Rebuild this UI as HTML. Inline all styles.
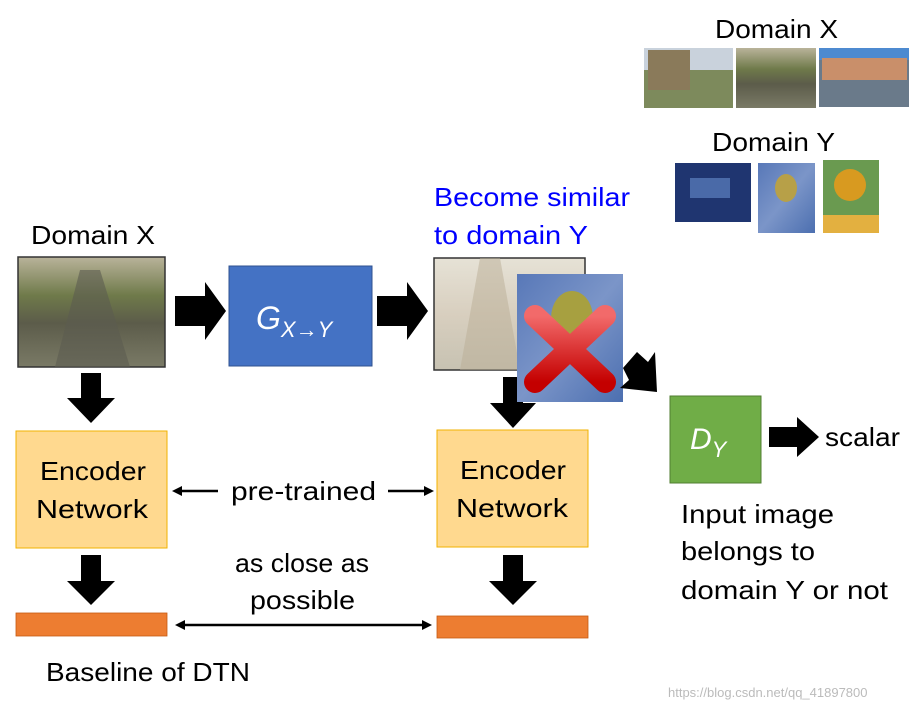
<!DOCTYPE html>
<html><head><meta charset="utf-8"><style>
body{margin:0;background:#fff;width:920px;height:711px;overflow:hidden}
svg text{font-family:"Liberation Sans",sans-serif}
</style></head><body>
<svg width="920" height="711" viewBox="0 0 920 711" xmlns="http://www.w3.org/2000/svg">
<defs>
<linearGradient id="canal" x1="0" y1="0" x2="0" y2="1">
<stop offset="0" stop-color="#b9b39a"/><stop offset="0.35" stop-color="#6f7a4a"/><stop offset="0.6" stop-color="#5c5c4a"/><stop offset="1" stop-color="#7a7a66"/></linearGradient>
<linearGradient id="water" x1="0" y1="0" x2="0" y2="1">
<stop offset="0" stop-color="#e6e2d6"/><stop offset="0.5" stop-color="#d8cfbf"/><stop offset="1" stop-color="#c7c2b2"/></linearGradient>
<linearGradient id="vg" x1="0" y1="0" x2="1" y2="1">
<stop offset="0" stop-color="#5878b8"/><stop offset="0.5" stop-color="#7b95c8"/><stop offset="1" stop-color="#4c6fb0"/></linearGradient>
<linearGradient id="redx" x1="0" y1="0" x2="0" y2="1">
<stop offset="0" stop-color="#f26a6a"/><stop offset="1" stop-color="#c40000"/></linearGradient>
</defs>
<text x="715" y="38" font-size="26" textLength="123" lengthAdjust="spacingAndGlyphs">Domain X</text>
<rect x="644" y="48" width="89" height="60" fill="#7d8a5c"/><rect x="644" y="48" width="89" height="22" fill="#c9d2dc"/><rect x="648" y="50" width="42" height="40" fill="#8a7a5a"/>
<rect x="736" y="48" width="80" height="60" fill="url(#canal)"/>
<rect x="819" y="48" width="90" height="59" fill="#6a7a8a"/><rect x="819" y="48" width="90" height="12" fill="#4d8ad0"/><rect x="822" y="58" width="85" height="22" fill="#c98f6a"/>
<text x="712" y="151" font-size="26" textLength="123" lengthAdjust="spacingAndGlyphs">Domain Y</text>
<rect x="675" y="163" width="76" height="59" fill="#1f3570"/><rect x="690" y="178" width="40" height="20" fill="#4a6aa8"/>
<rect x="758" y="163" width="57" height="70" fill="url(#vg)"/><ellipse cx="786" cy="188" rx="11" ry="14" fill="#b7a048"/>
<rect x="823" y="160" width="56" height="73" fill="#6a9a50"/><circle cx="850" cy="185" r="16" fill="#d89a20"/><rect x="823" y="215" width="56" height="18" fill="#e3b040"/>
<text x="31" y="244" font-size="26" textLength="124" lengthAdjust="spacingAndGlyphs">Domain X</text>
<rect x="18" y="257" width="147" height="110" fill="url(#canal)" stroke="#333" stroke-width="1.5"/>
<polygon points="80,270 100,270 130,367 55,367" fill="#5b5c50" opacity="0.6"/>
<polygon points="175,296 205,296 205,282 226,311 205,340 205,326 175,326" fill="#000"/>
<rect x="229" y="266" width="143" height="100" fill="#4472c4" stroke="#2f528f"/>
<text x="256" y="329" font-size="32" font-style="italic" fill="#fff" font-family="Liberation Serif">G<tspan font-size="22" dy="8">X→Y</tspan></text>
<polygon points="377,296 407,296 407,282 428,311 407,340 407,326 377,326" fill="#000"/>
<text x="434" y="206" font-size="26" fill="#0000ff" textLength="196" lengthAdjust="spacingAndGlyphs">Become similar</text>
<text x="434" y="244" font-size="26" fill="#0000ff" textLength="154" lengthAdjust="spacingAndGlyphs">to domain Y</text>
<rect x="434" y="258" width="151" height="112" fill="url(#water)" stroke="#333" stroke-width="1.5"/>
<polygon points="480,258 500,258 520,370 460,370" fill="#b9ae96" opacity="0.5"/>
<polygon points="503,377 523,377 523,403 536,403 513,428 490,403 503,403" fill="#000"/>
<rect x="517" y="274" width="106" height="128" fill="url(#vg)"/>
<ellipse cx="572" cy="318" rx="21" ry="27" fill="#a7a040"/>
<g stroke="url(#redx)" stroke-width="22" stroke-linecap="round"><line x1="535" y1="316" x2="605" y2="382"/><line x1="605" y1="316" x2="535" y2="382"/></g>
<polygon points="623,368 637,352 648,362 655,352 657,392 620,388 629,380" fill="#000"/>
<rect x="670" y="396" width="91" height="87" fill="#70ad47" stroke="#507e32"/>
<text x="690" y="449" font-size="30" font-style="italic" fill="#fff" font-family="Liberation Serif">D<tspan font-size="22" dy="8">Y</tspan></text>
<polygon points="769,427 797,427 797,417 819,437 797,457 797,447 769,447" fill="#000"/>
<text x="825" y="446" font-size="26" textLength="75" lengthAdjust="spacingAndGlyphs">scalar</text>
<text x="681" y="523" font-size="26" textLength="153" lengthAdjust="spacingAndGlyphs">Input image</text>
<text x="681" y="560" font-size="26" textLength="134" lengthAdjust="spacingAndGlyphs">belongs to</text>
<text x="681" y="599" font-size="26" textLength="207" lengthAdjust="spacingAndGlyphs">domain Y or not</text>
<polygon points="81,373 101,373 101,398 115,398 91,423 67,398 81,398" fill="#000"/>
<rect x="16" y="431" width="151" height="117" fill="#ffd98f" stroke="#f2b200"/>
<text x="40" y="480" font-size="26" textLength="106" lengthAdjust="spacingAndGlyphs">Encoder</text>
<text x="36" y="518" font-size="26" textLength="112" lengthAdjust="spacingAndGlyphs">Network</text>
<rect x="437" y="430" width="151" height="117" fill="#ffd98f" stroke="#f2b200"/>
<text x="460" y="479" font-size="26" textLength="106" lengthAdjust="spacingAndGlyphs">Encoder</text>
<text x="456" y="517" font-size="26" textLength="112" lengthAdjust="spacingAndGlyphs">Network</text>
<text x="231" y="500" font-size="26" textLength="145" lengthAdjust="spacingAndGlyphs">pre-trained</text>
<line x1="180" y1="491" x2="218" y2="491" stroke="#000" stroke-width="2.5"/><polygon points="172,491 182,486 182,496"/>
<line x1="388" y1="491" x2="426" y2="491" stroke="#000" stroke-width="2.5"/><polygon points="434,491 424,486 424,496"/>
<polygon points="81,555 101,555 101,581 115,581 91,605 67,581 81,581" fill="#000"/>
<polygon points="503,555 523,555 523,581 537,581 513,605 489,581 503,581" fill="#000"/>
<rect x="16" y="613" width="151" height="23" fill="#ed7d31" stroke="#c55a11" stroke-width="0.8"/>
<rect x="437" y="616" width="151" height="22" fill="#ed7d31" stroke="#c55a11" stroke-width="0.8"/>
<text x="235" y="572" font-size="26" textLength="134" lengthAdjust="spacingAndGlyphs">as close as</text>
<text x="250" y="609" font-size="26" textLength="105" lengthAdjust="spacingAndGlyphs">possible</text>
<line x1="182" y1="625" x2="425" y2="625" stroke="#000" stroke-width="2.5"/>
<polygon points="175,625 185,620 185,630"/><polygon points="432,625 422,620 422,630"/>
<text x="46" y="681" font-size="26" textLength="204" lengthAdjust="spacingAndGlyphs">Baseline of DTN</text>
<text x="668" y="697" font-size="13" fill="#bbb">https://blog.csdn.net/qq_41897800</text>
</svg>
</body></html>
